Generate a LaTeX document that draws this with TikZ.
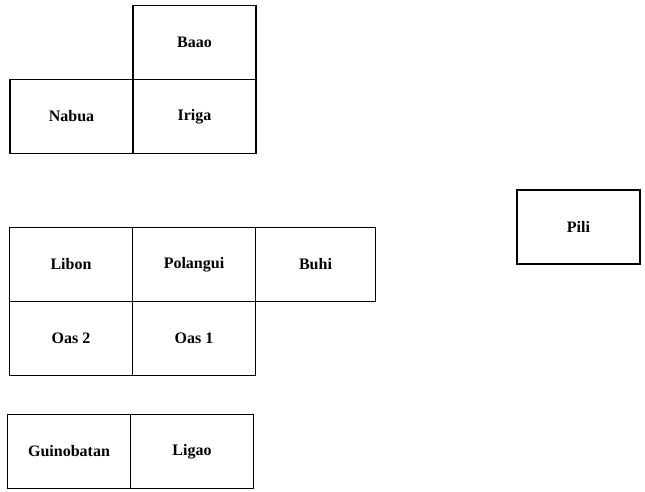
\documentclass[tikz,border=0pt]{standalone}
\usepackage{fontspec}
\setmainfont{Liberation Serif}
\usetikzlibrary{positioning}

\begin{document}
\begin{tikzpicture}[x=1pt,y=-1pt,on grid,node distance=74pt and 123pt,
                    line width=1.3pt]
  \tikzstyle{town}=[draw=black,rectangle,minimum width=123pt,minimum height=74pt,
                    inner sep=0pt,font=\fontsize{16}{18}\selectfont\bfseries]
  \useasboundingbox (0,0) rectangle (645,491);

  % north group
  \node[town]  (nabua)  at (71.5,116.5)  {Nabua};
  \node[town]  (iriga)  [right=of nabua] {Iriga};
  \node[town]  (baao)   [above=of iriga] {Baao};

  % middle group
  \node[town]  (libon)    at (71,264.5)     {Libon};
  \node[town]  (polangui) [right=of libon]  {Polangui};
  \node[town, minimum width=120pt] (buhi) [right=121.5pt of polangui] {Buhi};
  \node[town]  (oas2)     [below=of libon]  {Oas 2};
  \node[town]  (oas1)     [below=of polangui] {Oas 1};

  % south group
  \node[town]  (guinobatan) at (69,451.5)      {Guinobatan};
  \node[town]  (ligao)      [right=of guinobatan] {Ligao};

  % alone
  \node[town]  (pili) at (578.5,227) {Pili};
\end{tikzpicture}
\end{document}
